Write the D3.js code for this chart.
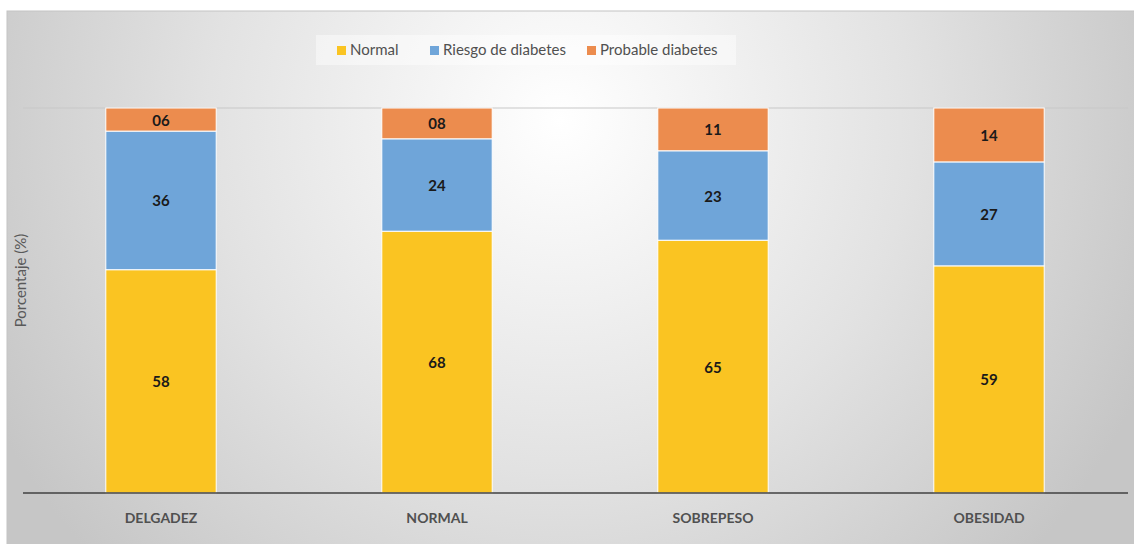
<!DOCTYPE html>
<meta charset="utf-8">
<html>
<head>
    <title>Estado glucémico por IMC</title>
    <script src="https://cdn.jsdelivr.net/npm/d3@7"></script>
</head>
<style>
    body { margin: 0; background: #ffffff; }
    svg { display: block; }
    text { font-family: Lato, "Open Sans", sans-serif; }
    .seg { stroke: #ffffff; stroke-width: 1px; }
    .lbl { font-size: 15px; font-weight: bold; fill: #1a1a1a; }
    .xlab { font-size: 14px; font-weight: bold; fill: #505050; }
    .leg { font-size: 15px; fill: #505050; }
</style>
<body>
<svg width="1134" height="544"></svg>
<script>
    // ----- data -----
    const categories = ["DELGADEZ", "NORMAL", "SOBREPESO", "OBESIDAD"]
    const series = ["Normal", "Riesgo de diabetes", "Probable diabetes"]
    const normal = [58, 68, 65, 59]
    const riesgo = [36, 24, 23, 27]
    const probable = [6, 8, 11, 14]
    const colors = ["#fac422", "#6fa5d9", "#ec8c4e"]

    const rows = categories.map((c, i) => ({
        cat: c,
        "Normal": normal[i],
        "Riesgo de diabetes": riesgo[i],
        "Probable diabetes": probable[i]
    }))

    const svg = d3.select("svg")
    const W = 1134, H = 544
    const plot = {left: 23, right: 1127, top: 108, bottom: 493}

    // ----- background panel -----
    const defs = svg.append("defs")
    const grad = defs.append("radialGradient")
        .attr("id", "bg")
        .attr("gradientUnits", "userSpaceOnUse")
        .attr("cx", 560).attr("cy", 120).attr("r", 640)
    grad.append("stop").attr("offset", "0%").attr("stop-color", "#ffffff")
    grad.append("stop").attr("offset", "55%").attr("stop-color", "#e2e2e2")
    grad.append("stop").attr("offset", "100%").attr("stop-color", "#c6c6c6")

    svg.append("rect")
        .attr("x", 7).attr("y", 11)
        .attr("width", W).attr("height", H)
        .attr("fill", "url(#bg)")
        .attr("stroke", "#c4c4c4")

    // ----- scales -----
    const x = d3.scaleBand()
        .domain(categories)
        .range([plot.left, plot.right])
        .paddingInner(0.6)
        .paddingOuter(0.3)

    const y = d3.scaleLinear()
        .domain([0, 1])
        .range([plot.bottom, plot.top])

    const stack = d3.stack()
        .keys(series)
        .offset(d3.stackOffsetExpand)
    const layers = stack(rows)

    // top gridline
    svg.append("line")
        .attr("x1", plot.left).attr("x2", plot.right + 1)
        .attr("y1", y(1)).attr("y2", y(1))
        .attr("stroke", "#c8c8c8").attr("stroke-width", 1.2)

    // ----- bars -----
    const g = svg.append("g")
    layers.forEach((layer, li) => {
        g.selectAll(".s" + li)
            .data(layer)
            .enter()
            .append("rect")
            .attr("class", "seg")
            .attr("x", d => x(d.data.cat))
            .attr("width", x.bandwidth())
            .attr("y", d => y(d[1]))
            .attr("height", d => y(d[0]) - y(d[1]))
            .style("fill", colors[li])
        g.selectAll(".t" + li)
            .data(layer)
            .enter()
            .append("text")
            .attr("class", "lbl")
            .attr("x", d => x(d.data.cat) + x.bandwidth() / 2)
            .attr("y", d => (y(d[0]) + y(d[1])) / 2 + 6)
            .attr("text-anchor", "middle")
            .text(d => d3.format("02d")(d.data[layer.key]))
    })

    // ----- x axis -----
    const xAxis = svg.append("g")
        .attr("transform", `translate(0,${plot.bottom})`)
        .call(d3.axisBottom(x).tickSize(0).tickPadding(20))
    xAxis.select(".domain").attr("stroke", "#404040").attr("stroke-width", 1.5)
        .attr("d", `M${plot.left},0H${plot.right + 1}`)
    xAxis.selectAll("text").attr("class", "xlab").attr("font-family", null).attr("font-size", null)

    // y axis title
    svg.append("text")
        .attr("transform", `translate(26,${(plot.top + plot.bottom) / 2 - 20}) rotate(-90)`)
        .attr("text-anchor", "middle")
        .style("font-size", "15px")
        .style("fill", "#595959")
        .text("Porcentaje (%)")

    // ----- legend -----
    svg.append("rect")
        .attr("x", 316).attr("y", 35).attr("width", 420).attr("height", 30)
        .attr("fill", "#ffffff").attr("opacity", 0.45)
    const legX = [337, 430, 587]
    const leg = svg.selectAll(".legitem")
        .data(series)
        .enter()
        .append("g")
        .attr("transform", (d, i) => `translate(${legX[i]},50)`)
    leg.append("rect")
        .attr("x", 0).attr("y", -4).attr("width", 9).attr("height", 9)
        .style("fill", (d, i) => colors[i])
    leg.append("text")
        .attr("class", "leg")
        .attr("x", 13).attr("y", 5)
        .text(d => d)
</script>
</body>
</html>
